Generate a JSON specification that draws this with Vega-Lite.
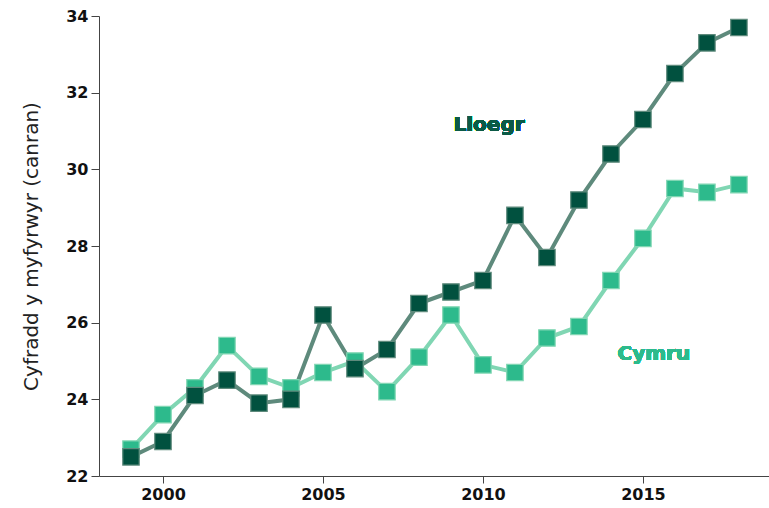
{
  "$schema": "https://vega.github.io/schema/vega-lite/v6.json",
  "autosize": "none",
  "width": 670,
  "height": 460,
  "padding": {"left": 99, "top": 16, "right": 0, "bottom": 32},
  "background": "white",
  "config": {"view": {"stroke": null}, "font": "DejaVu Sans"},
  "data": {"values": [
    {"year": 1999, "region": "Cymru", "value": 22.7},
    {"year": 2000, "region": "Cymru", "value": 23.6},
    {"year": 2001, "region": "Cymru", "value": 24.3},
    {"year": 2002, "region": "Cymru", "value": 25.4},
    {"year": 2003, "region": "Cymru", "value": 24.6},
    {"year": 2004, "region": "Cymru", "value": 24.3},
    {"year": 2005, "region": "Cymru", "value": 24.7},
    {"year": 2006, "region": "Cymru", "value": 25.0},
    {"year": 2007, "region": "Cymru", "value": 24.2},
    {"year": 2008, "region": "Cymru", "value": 25.1},
    {"year": 2009, "region": "Cymru", "value": 26.2},
    {"year": 2010, "region": "Cymru", "value": 24.9},
    {"year": 2011, "region": "Cymru", "value": 24.7},
    {"year": 2012, "region": "Cymru", "value": 25.6},
    {"year": 2013, "region": "Cymru", "value": 25.9},
    {"year": 2014, "region": "Cymru", "value": 27.1},
    {"year": 2015, "region": "Cymru", "value": 28.2},
    {"year": 2016, "region": "Cymru", "value": 29.5},
    {"year": 2017, "region": "Cymru", "value": 29.4},
    {"year": 2018, "region": "Cymru", "value": 29.6},
    {"year": 1999, "region": "Lloegr", "value": 22.5},
    {"year": 2000, "region": "Lloegr", "value": 22.9},
    {"year": 2001, "region": "Lloegr", "value": 24.1},
    {"year": 2002, "region": "Lloegr", "value": 24.5},
    {"year": 2003, "region": "Lloegr", "value": 23.9},
    {"year": 2004, "region": "Lloegr", "value": 24.0},
    {"year": 2005, "region": "Lloegr", "value": 26.2},
    {"year": 2006, "region": "Lloegr", "value": 24.8},
    {"year": 2007, "region": "Lloegr", "value": 25.3},
    {"year": 2008, "region": "Lloegr", "value": 26.5},
    {"year": 2009, "region": "Lloegr", "value": 26.8},
    {"year": 2010, "region": "Lloegr", "value": 27.1},
    {"year": 2011, "region": "Lloegr", "value": 28.8},
    {"year": 2012, "region": "Lloegr", "value": 27.7},
    {"year": 2013, "region": "Lloegr", "value": 29.2},
    {"year": 2014, "region": "Lloegr", "value": 30.4},
    {"year": 2015, "region": "Lloegr", "value": 31.3},
    {"year": 2016, "region": "Lloegr", "value": 32.5},
    {"year": 2017, "region": "Lloegr", "value": 33.3},
    {"year": 2018, "region": "Lloegr", "value": 33.7}
  ]},
  "encoding": {
    "x": {"field": "year", "type": "quantitative",
      "scale": {"domain": [1998, 2018.94], "nice": false, "zero": false},
      "axis": {"values": [2000, 2005, 2010, 2015], "format": "d", "title": null, "grid": false,
        "labelFontSize": 16, "labelFontWeight": "bold", "labelColor": "#111", "labelPadding": 3,
        "domainColor": "#444", "tickColor": "#444", "tickSize": 7, "labelFlush": false}},
    "y": {"field": "value", "type": "quantitative",
      "scale": {"domain": [22, 34], "nice": false, "zero": false},
      "axis": {"values": [22, 24, 26, 28, 30, 32, 34], "title": "Cyfradd y myfyrwyr (canran)", "grid": false,
        "labelFontSize": 16, "labelFontWeight": "bold", "labelColor": "#111", "labelPadding": 3,
        "domainColor": "#444", "tickColor": "#444", "tickSize": 8,
        "titleFontSize": 20, "titleFontWeight": "normal", "titleColor": "#222", "titlePadding": 24}}
  },
  "layer": [
    {
      "mark": {"type": "line", "strokeWidth": 4},
      "encoding": {
        "color": {"field": "region", "type": "nominal",
          "scale": {"domain": ["Cymru", "Lloegr"], "range": ["#80d6b3", "#5e8a7c"]}, "legend": null}
      }
    },
    {
      "mark": {"type": "point", "shape": "square", "filled": true, "size": 270, "opacity": 1, "strokeWidth": 1.2},
      "encoding": {
        "fill": {"field": "region", "type": "nominal",
          "scale": {"domain": ["Cymru", "Lloegr"], "range": ["#2dba8c", "#01513f"]}, "legend": null},
        "stroke": {"field": "region", "type": "nominal",
          "scale": {"domain": ["Cymru", "Lloegr"], "range": ["#80d6b3", "#5e8a7c"]}, "legend": null}
      }
    },
    {
      "mark": {"type": "text", "text": "Lloegr", "fontSize": 20, "fontWeight": "bold", "fill": "#0b5a46", "strokeWidth": 0, "stroke": null, "align": "center", "baseline": "middle"},
      "encoding": {"x": {"datum": 2010.19}, "y": {"datum": 31.16}}
    },
    {
      "mark": {"type": "text", "text": "Cymru", "fontSize": 20, "fontWeight": "bold", "fill": "#2dba8c", "strokeWidth": 0, "stroke": null, "align": "center", "baseline": "middle"},
      "encoding": {"x": {"datum": 2015.34}, "y": {"datum": 25.18}}
    }
  ]
}
